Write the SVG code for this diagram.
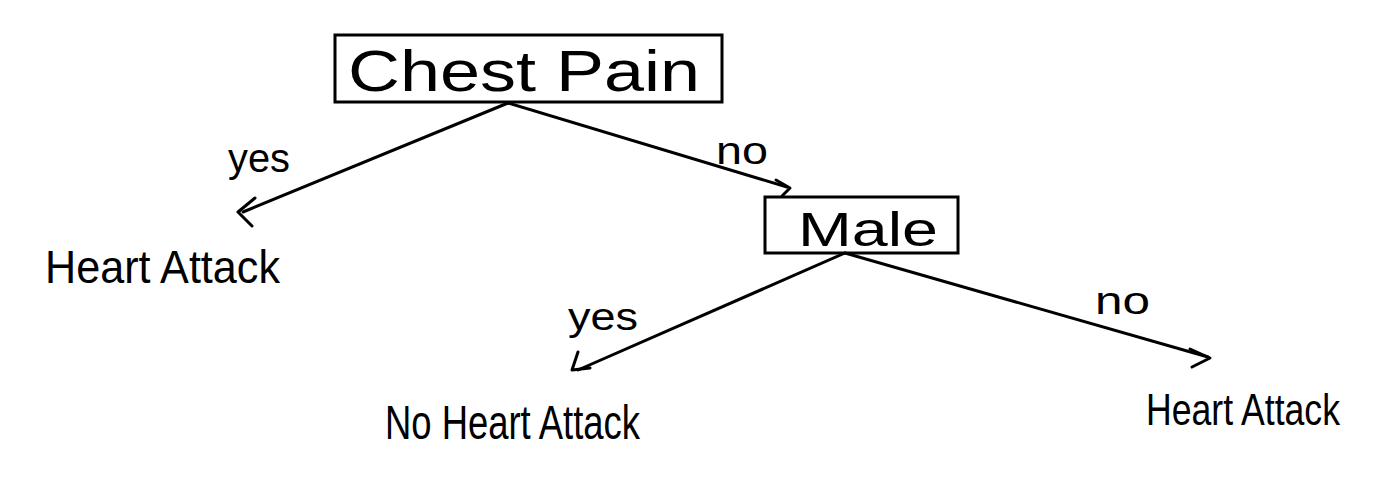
<svg xmlns="http://www.w3.org/2000/svg" width="1391" height="490" viewBox="0 0 1391 490">
<style>
.box{fill:none;stroke:#000;stroke-width:3}
.edge{fill:none;stroke:#000;stroke-width:3;stroke-linecap:round;stroke-linejoin:round}
.t{font-family:"Liberation Sans Narrow","Liberation Sans",sans-serif;fill:#000}
</style>
<rect width="1391" height="490" fill="#fff"/>
<g id="connectors">
<path class="edge" d="M508,103 L243,212"/>
<path class="edge" d="M255,198 L238,212 L252,226"/>
<path class="edge" d="M508,103 L787,187"/>
<path class="edge" d="M776,180 L790,188 L782,196"/>
<path class="edge" d="M845,253 L578,370"/>
<path class="edge" d="M578,352 L572,370 L590,368"/>
<path class="edge" d="M845,253 L1208,357"/>
<path class="edge" d="M1190,349 L1210,358 L1192,367"/>
<text class="t" x="228" y="172" font-size="40" textLength="62" lengthAdjust="spacingAndGlyphs">yes</text>
<text class="t" x="716" y="164" font-size="38" textLength="52" lengthAdjust="spacingAndGlyphs">no</text>
<text class="t" x="568" y="330" font-size="38" textLength="70" lengthAdjust="spacingAndGlyphs">yes</text>
<text class="t" x="1095" y="314" font-size="38" textLength="55" lengthAdjust="spacingAndGlyphs">no</text>
</g>
<g id="chest-pain">
<rect class="box" x="335" y="35" width="387" height="67"/>
<text class="t" x="348" y="91" font-size="58" textLength="352" lengthAdjust="spacingAndGlyphs">Chest Pain</text>
</g>
<g id="male">
<rect class="box" x="765" y="197" width="193" height="56"/>
<text class="t" x="798" y="246" font-size="48" textLength="140" lengthAdjust="spacingAndGlyphs">Male</text>
</g>
<g id="heart-attack-1">
<text class="t" x="45" y="283" font-size="46" textLength="235" lengthAdjust="spacingAndGlyphs">Heart Attack</text>
</g>
<g id="no-heart-attack">
<text class="t" x="385" y="439" font-size="48" textLength="255" lengthAdjust="spacingAndGlyphs">No Heart Attack</text>
</g>
<g id="heart-attack-2">
<text class="t" x="1146" y="425" font-size="44" textLength="194" lengthAdjust="spacingAndGlyphs">Heart Attack</text>
</g>
</svg>
